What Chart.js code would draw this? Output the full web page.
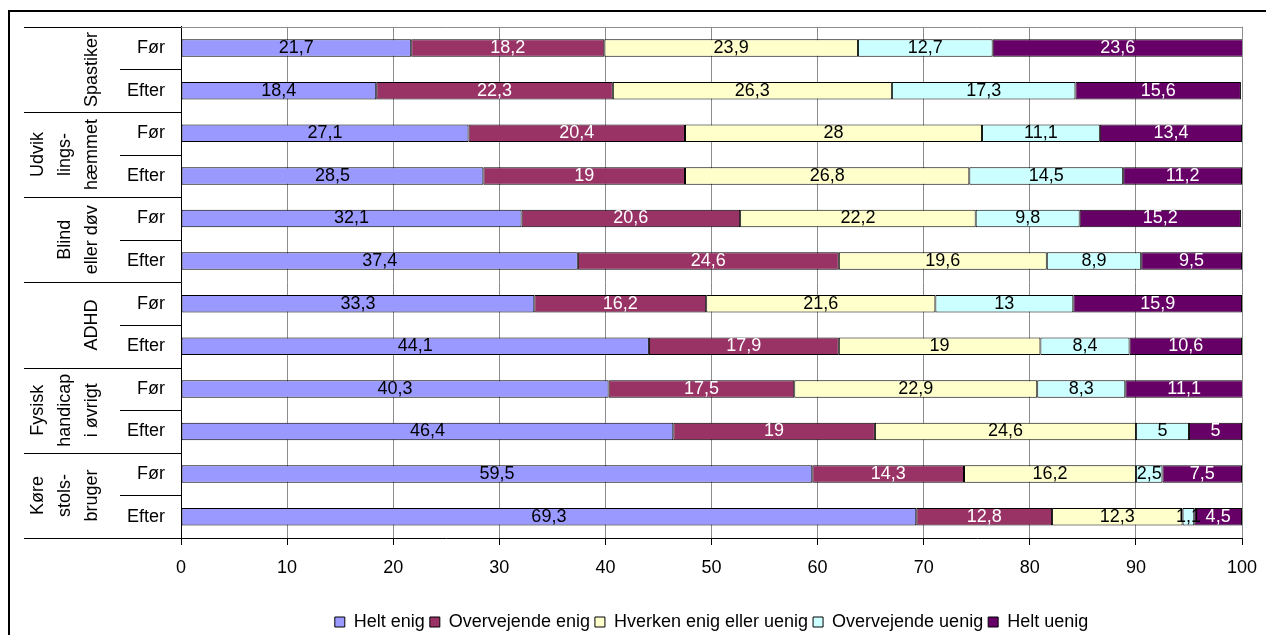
<!DOCTYPE html>
<html>
<head>
<meta charset="utf-8">
<script src="https://cdn.jsdelivr.net/npm/chart.js@4"></script>
<style>
  html, body { margin: 0; padding: 0; background: #fff; }
  #wrap { width: 1266px; height: 635px; }
</style>
</head>
<body>
<div id="wrap"><canvas id="c" width="1266" height="635"></canvas></div>
<script>
// rækker (top -> bund)
const categories = ['Før', 'Efter', 'Før', 'Efter', 'Før', 'Efter', 'Før', 'Efter', 'Før', 'Efter', 'Før', 'Efter'];
const groups = [
    ['Spastiker'],
    ['Udvik', 'lings-', 'hæmmet'],
    ['Blind', 'eller døv'],
    ['ADHD'],
    ['Fysisk', 'handicap', 'i øvrigt'],
    ['Køre', 'stols-', 'bruger']
];
const seriesNames = ['Helt enig', 'Overvejende enig', 'Hverken enig eller uenig', 'Overvejende uenig', 'Helt uenig'];
const heltEnig = [21.7, 18.4, 27.1, 28.5, 32.1, 37.4, 33.3, 44.1, 40.3, 46.4, 59.5, 69.3];
const overvejendeEnig = [18.2, 22.3, 20.4, 19, 20.6, 24.6, 16.2, 17.9, 17.5, 19, 14.3, 12.8];
const hverken = [23.9, 26.3, 28, 26.8, 22.2, 19.6, 21.6, 19, 22.9, 24.6, 16.2, 12.3];
const overvejendeUenig = [12.7, 17.3, 11.1, 14.5, 9.8, 8.9, 13, 8.4, 8.3, 5, 2.5, 1.1];
const heltUenig = [23.6, 15.6, 13.4, 11.2, 15.2, 9.5, 15.9, 10.6, 11.1, 5, 7.5, 4.5];

const colors = ['#9999FF', '#993366', '#FFFFCC', '#CCFFFF', '#660066'];
const labelColors = ['#000', '#fff', '#000', '#000', '#fff'];
const FONT = '"Liberation Sans", Arial, sans-serif';

const seriesData = [heltEnig, overvejendeEnig, hverken, overvejendeUenig, heltUenig];

// ramme + hvid baggrund
const framePlugin = {
    id: 'frame',
    beforeDraw(chart) {
        const ctx = chart.ctx;
        ctx.save();
        ctx.fillStyle = '#fff';
        ctx.fillRect(0, 0, chart.width, chart.height);
        ctx.strokeStyle = '#000';
        ctx.lineWidth = 2;
        ctx.beginPath();
        ctx.moveTo(9, chart.height);
        ctx.lineTo(9, 11);
        ctx.lineTo(chart.width, 11);
        ctx.stroke();
        ctx.restore();
    },
    afterDraw(chart) {
        const ctx = chart.ctx;
        const a = chart.chartArea;
        const y = chart.scales.y;
        const n = categories.length;
        const rowH = (a.bottom - a.top) / n;
        ctx.save();
        // plot-ramme top
        ctx.strokeStyle = '#8c8c8c';
        ctx.lineWidth = 1;
        ctx.beginPath();
        ctx.moveTo(a.left, Math.round(a.top) + 0.5);
        ctx.lineTo(a.right, Math.round(a.top) + 0.5);
        ctx.stroke();
        // skillelinjer i y-aksen
        ctx.strokeStyle = '#000';
        for (let i = 0; i <= n; i++) {
            const yy = Math.round(a.top + i * rowH) + 0.5;
            ctx.beginPath();
            ctx.moveTo(i % 2 === 0 ? 24 : 120, yy);
            ctx.lineTo(a.left, yy);
            ctx.stroke();
        }
        // gruppe-tekster (roteret)
        ctx.fillStyle = '#000';
        ctx.font = '18px ' + FONT;
        ctx.textAlign = 'center';
        ctx.textBaseline = 'middle';
        groups.forEach((lines, g) => {
            const cy = (y.getPixelForValue(g * 2) + y.getPixelForValue(g * 2 + 1)) / 2;
            lines.forEach((t, k) => {
                const x = 92 - 27 * (lines.length - 1 - k);
                ctx.save();
                ctx.translate(x, cy);
                ctx.rotate(-Math.PI / 2);
                ctx.fillText(t, 0, 0);
                ctx.restore();
            });
        });
        ctx.restore();
    }
};

// tal i søjlerne
const valuesPlugin = {
    id: 'values',
    afterDatasetsDraw(chart) {
        const ctx = chart.ctx;
        ctx.save();
        ctx.font = '18px ' + FONT;
        ctx.textAlign = 'center';
        ctx.textBaseline = 'middle';
        chart.data.datasets.forEach((ds, i) => {
            const meta = chart.getDatasetMeta(i);
            ctx.fillStyle = labelColors[i];
            meta.data.forEach((el, j) => {
                const { x, base, y } = el.getProps(['x', 'base', 'y'], true);
                const txt = String(ds.data[j]).replace('.', ',');
                ctx.fillText(txt, (x + base) / 2, y);
            });
        });
        ctx.restore();
    }
};

Chart.defaults.font.family = FONT;
Chart.defaults.font.size = 18;
Chart.defaults.color = '#000';

new Chart(document.getElementById('c'), {
    type: 'bar',
    data: {
        labels: categories,
        datasets: seriesData.map((d, i) => ({
            label: seriesNames[i],
            data: d,
            backgroundColor: colors[i],
            borderColor: '#000',
            borderWidth: 1,
            borderSkipped: false,
            categoryPercentage: 1,
            barPercentage: 0.41
        }))
    },
    options: {
        indexAxis: 'y',
        responsive: false,
        animation: false,
        devicePixelRatio: 1,
        layout: { padding: { top: 26, right: 24, bottom: -6, left: 0 } },
        scales: {
            x: {
                stacked: true,
                min: 0,
                max: 100,
                ticks: { stepSize: 10, padding: 12, font: { size: 18 } },
                grid: { color: '#8c8c8c', tickColor: '#000', tickLength: 7 },
                border: { color: '#000' },
                afterFit(s) { s.height = 70; s.paddingRight = 0; s.paddingLeft = 0; }
            },
            y: {
                stacked: true,
                ticks: { padding: 16, font: { size: 18 } },
                grid: { display: false, drawTicks: false },
                border: { color: '#000' },
                afterFit(s) { s.width = 181; }
            }
        },
        plugins: {
            legend: {
                position: 'bottom',
                fullSize: false,
                labels: {
                    boxWidth: 10,
                    boxHeight: 10,
                    padding: 5,
                    font: { size: 18 },
                    color: '#000'
                }
            },
            tooltip: { enabled: false }
        }
    },
    plugins: [framePlugin, valuesPlugin]
});
</script>
</body>
</html>
